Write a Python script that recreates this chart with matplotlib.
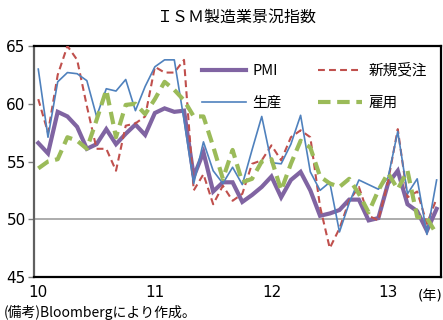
import matplotlib
matplotlib.use("Agg")
import matplotlib.pyplot as plt
from matplotlib.lines import Line2D

plt.rcParams['font.family'] = ['Noto Sans CJK JP', 'DejaVu Sans']

# monthly data Jan 2010 - Jun 2013
months = list(range(42))
pmi = [56.6, 55.7, 59.3, 58.9, 58.0, 56.1, 56.5, 57.8, 56.5, 57.4, 58.2, 57.3,
       59.2, 59.6, 59.3, 59.4, 53.7, 55.8, 52.4, 53.2, 53.2, 51.5, 52.1, 52.8,
       53.7, 51.9, 53.4, 54.1, 52.5, 50.3, 50.5, 50.8, 51.7, 51.7, 49.9, 50.1,
       53.1, 54.2, 51.3, 50.7, 49.0, 50.9]
new_orders = [60.4, 57.5, 62.5, 65.0, 63.8, 59.8, 56.1, 56.1, 54.2, 58.1, 58.3, 58.9,
              63.2, 62.7, 62.7, 63.8, 52.5, 53.9, 51.3, 52.9, 51.6, 52.2, 54.8, 55.1,
              56.4, 55.1, 57.1, 57.7, 57.1, 51.1, 47.5, 49.2, 51.6, 52.8, 50.3, 49.9,
              53.3, 57.8, 51.9, 52.4, 49.6, 51.8]
production = [63.0, 57.1, 61.9, 62.7, 62.6, 62.0, 58.9, 61.3, 61.1, 62.1, 59.4, 61.5,
              63.2, 63.8, 63.8, 58.6, 53.1, 56.7, 54.2, 53.1, 54.5, 53.0, 56.0, 58.9,
              54.9, 54.8, 56.5, 59.0, 54.1, 52.5, 53.2, 48.9, 51.4, 53.4, 53.0, 52.6,
              53.6, 57.6, 52.2, 53.5, 48.7, 53.4]
employment = [54.4, 55.0, 55.2, 57.1, 56.8, 56.1, 58.6, 61.2, 57.1, 59.9, 60.0, 59.1,
              60.4, 61.9, 61.2, 60.3, 58.9, 58.9, 56.3, 53.5, 56.0, 53.2, 53.5, 55.0,
              55.2, 52.5, 54.8, 56.8, 56.2, 53.7, 53.1, 52.8, 53.5, 52.2, 50.6, 52.5,
              54.0, 52.6, 54.2, 50.2, 50.1, 48.7]
tick_pos = [0, 12, 24, 36]
tick_labels = ["10", "11", "12", "13"]
y_ticks = [45, 50, 55, 60, 65]

fig = plt.figure(figsize=(4.43, 3.2), dpi=100)
ax = fig.add_axes([34/443, 1-277/320, (441-34)/443, (277-46)/320])

ax.axhline(50, color='#a6a6a6', lw=1.3, zorder=1)

l1, = ax.plot(months, pmi, color='#8064A2', lw=3.0, zorder=3, solid_joinstyle='miter')
l2, = ax.plot(months, new_orders, color='#C0504D', lw=1.5, ls=(0, (3.3, 2)), zorder=4)
l3, = ax.plot(months, production, color='#4F81BD', lw=1.2, zorder=5)
l4, = ax.plot(months, employment, color='#9BBB59', lw=3.0, ls=(0, (3, 1.6)), zorder=6)

ax.set_xlim(-0.44, 41.45)
ax.set_ylim(45, 65)
ax.set_yticks(y_ticks)
ax.set_xticks(tick_pos)
ax.set_xticklabels(tick_labels)

tickfont = ['Liberation Sans Narrow', 'DejaVu Sans']
for lab in ax.get_yticklabels() + ax.get_xticklabels():
    lab.set_family(tickfont)
    lab.set_fontsize(11)

ax.tick_params(axis='y', length=4, width=1, color='#808080', pad=2)
ax.tick_params(axis='x', length=0, pad=6)

for s in ['top', 'right', 'bottom']:
    ax.spines[s].set_color('black')
    ax.spines[s].set_linewidth(1.6)
ax.spines['left'].set_color('#606060')
ax.spines['left'].set_linewidth(1.6)

leg = ax.legend([l1, l3, l2, l4], ['PMI', '生産', '新規受注', '雇用'], ncol=2,
                loc='upper right', bbox_to_anchor=(0.98, 0.95), frameon=False,
                fontsize=10.5, handlelength=3.0, columnspacing=2.5, labelspacing=1.25,
                handletextpad=0.45, borderaxespad=0.0, borderpad=0.4)

fig.text(236/443, 1-17/320, 'ＩＳＭ製造業景況指数', ha='center', va='center', fontsize=11.5)
fig.text(430/443, 1-296/320, '(年)', ha='center', va='center', fontsize=10,
         family=tickfont + ['Noto Sans CJK JP'])
fig.text(4/443, 1-312/320, '(備考)Bloombergにより作成。', ha='left', va='center', fontsize=10)

fig.savefig('out.png', dpi=100)
